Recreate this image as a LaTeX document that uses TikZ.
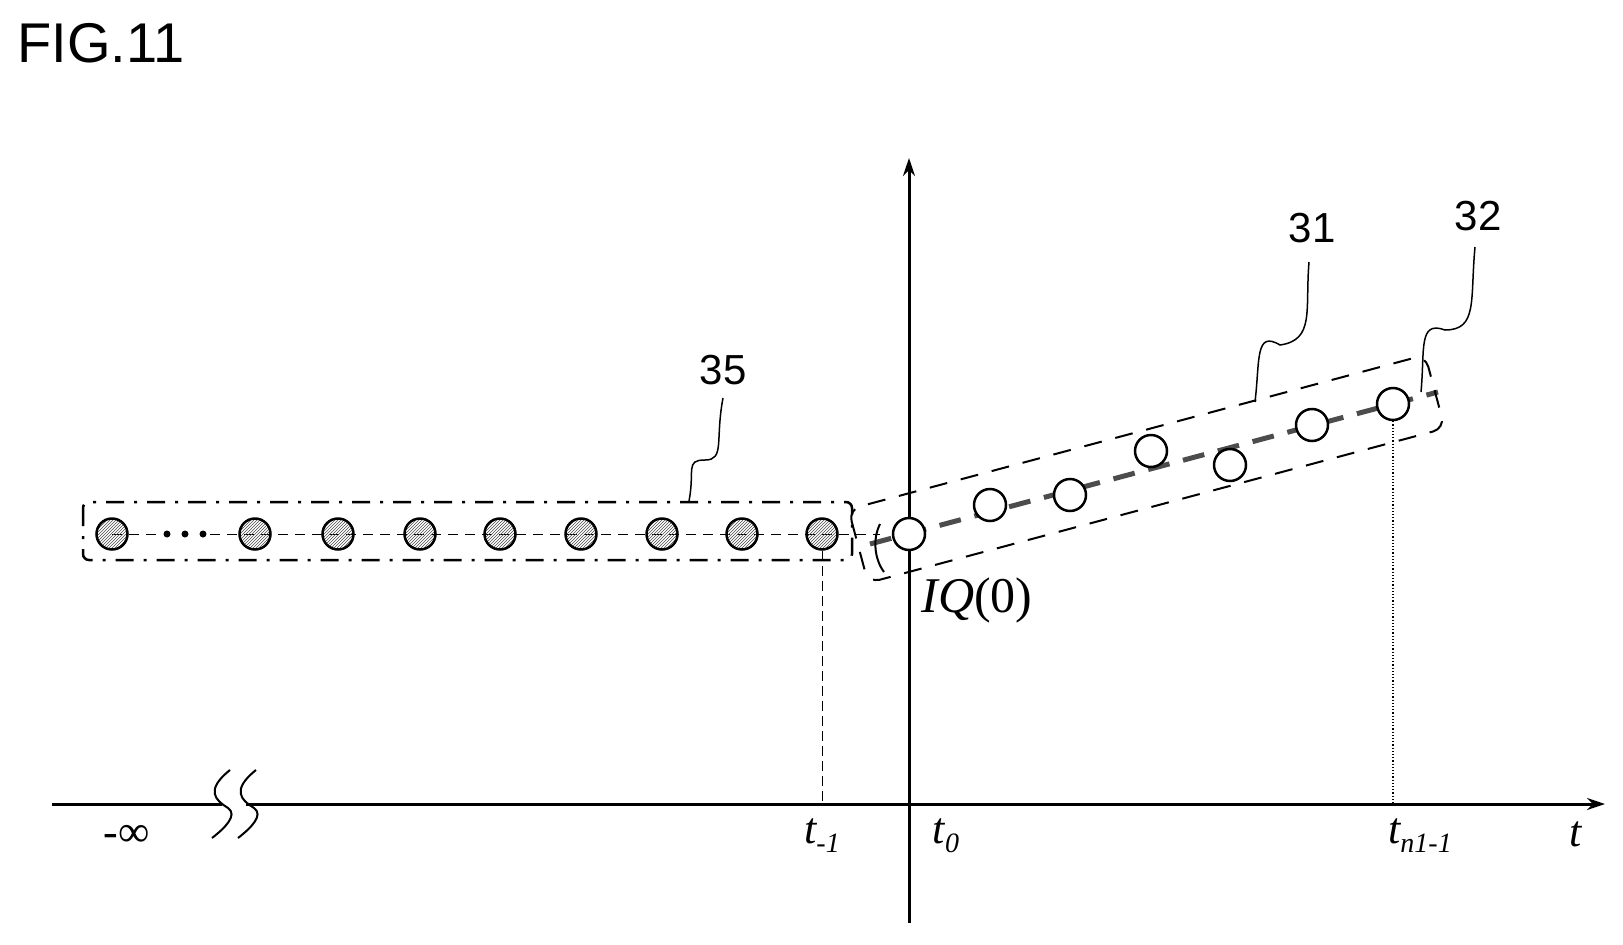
\documentclass[tikz,border=0pt]{standalone}
\usepackage{fontspec}
\setmainfont{Liberation Serif}
\newfontfamily\labelfont{Liberation Sans}
\usetikzlibrary{patterns,arrows.meta}

\newcommand{\tsub}[1]{\raisebox{-9pt}{\fontsize{28}{28}\selectfont #1}}

\tikzset{
  past/.style={circle, draw, line width=2.5pt, minimum size=31pt, inner sep=0pt,
    pattern=north east lines, pattern color=black!70},
  sample/.style={circle, draw, line width=2.5pt, minimum size=32pt, inner sep=0pt, fill=white},
  refnum/.style={font=\labelfont\fontsize{42}{42}\selectfont},
  tlabel/.style={font=\itshape\fontsize{44}{44}\selectfont},
  leader/.style={line width=1.5pt},
}

\begin{document}
\begin{tikzpicture}[x=1pt,y=-1pt]

\useasboundingbox (0,0) rectangle (1623,945);

\node[font=\labelfont\fontsize{56}{56}\selectfont, anchor=north west] (fig) at (14,20) {FIG.11};

% axes
\draw[line width=3pt, -{Stealth[length=18pt,width=12pt]}] (52,804) -- (1605,804);
\draw[line width=3pt, -{Stealth[length=18pt,width=12pt]}] (909,923) -- (909,158);

% break mark
\draw[line width=3pt, white] (222,804) -- (246,804);
\draw[line width=2pt] (230,770) .. controls (205,790) and (215,800) .. (228,808) .. controls (238,815) and (225,828) .. (212,838);
\draw[line width=2pt] (256,770) .. controls (231,790) and (241,800) .. (254,808) .. controls (264,815) and (251,828) .. (238,838);

% dotted line through past samples
\draw[line width=1pt, dash pattern=on 10pt off 7pt] (112,534) -- (160,534);
\draw[line width=1pt, dash pattern=on 10pt off 7pt] (210,534) -- (880,534);
\foreach \x in {167,185,203} \fill (\x,534) circle (3.5);

% box 35
\draw[line width=2.5pt, rounded corners=6pt, dash pattern=on 18pt off 10pt on 3pt off 10pt] (83,502) rectangle (852,560);

% past samples
\foreach \x [count=\i] in {112,255,338,420,500,581,662,742,822}
  \node[past] (p\i) at (\x,534) {};

% fitted line
\draw[line width=5pt, gray!60!black, dash pattern=on 22pt off 14pt] (870,544) -- (1438,392);

% box 31
\draw[line width=2pt, rounded corners=12pt, dash pattern=on 18pt off 14pt, rotate around={15:(1150,468)}]
  (848,430) rectangle (1445,506);

% bracket
\draw[line width=2pt] (880,524) .. controls (872,540) and (875,560) .. (884,572);

% present samples
\foreach \x/\y [count=\i] in {909/534,990/505,1070/495,1151/451,1230/465,1312/425,1393/404}
  \node[sample] (s\i) at (\x,\y) {};

% guides to axis
\draw[line width=1pt, dash pattern=on 10pt off 5pt] (p9.south) -- (822,804);
\draw[dotted, line width=1.2pt] (s7.south) -- (1393,804);

% axis labels
\node[tlabel] (tm1) at (822,836) {t\tsub{-1}};
\node[tlabel] (t0) at (946,836) {t\tsub{0}};
\node[tlabel] (tn) at (1420,836) {t\tsub{n1-1}};
\node[tlabel] (t) at (1576,834) {t};
\node[font=\fontsize{44}{44}\selectfont] (minf) at (127,836) {-∞};
\node[font=\fontsize{50}{50}\selectfont, anchor=west] (iq) at (918,600) {\textit{IQ}(0)};

% reference numerals
\node[refnum] (n35) at (723,370) {35};
\node[refnum] (n31) at (1312,228) {31};
\node[refnum] (n32) at (1478,216) {32};

\draw[leader] (723,398) .. controls (715,440) and (725,460) .. (705,460) .. controls (685,460) and (695,470) .. (689,501);
\draw[leader] (1309,262) .. controls (1305,310) and (1315,340) .. (1280,345) .. controls (1255,330) and (1260,360) .. (1255,402);
\draw[leader] (1475,247) .. controls (1470,300) and (1478,330) .. (1445,330) .. controls (1418,320) and (1425,350) .. (1421,392);

\end{tikzpicture}
\end{document}
